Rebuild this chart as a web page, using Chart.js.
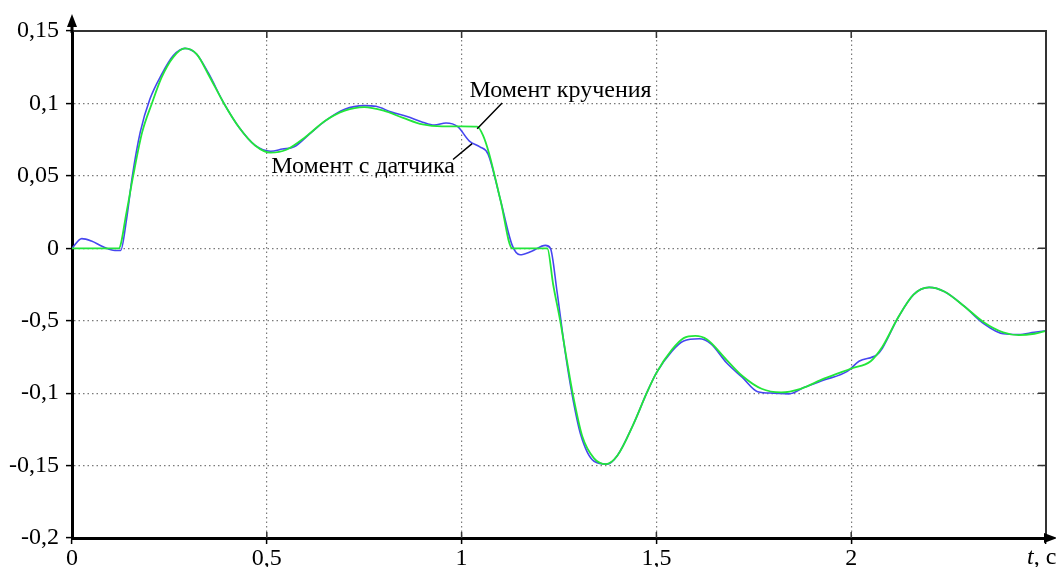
<!DOCTYPE html>
<html>
<head>
<meta charset="utf-8">
<script src="https://cdn.jsdelivr.net/npm/chart.js@4/dist/chart.umd.min.js"></script>
<style>
  html, body { margin: 0; padding: 0; background: #fff; }
  #wrap { width: 1056px; height: 567px; }
</style>
</head>
<body>
<div id="wrap"><canvas id="chart" width="1056" height="567"></canvas></div>
<script>
// time, s
const tModel = [0, 0.05, 0.10, 0.12, 0.14, 0.157, 0.18, 0.205, 0.23, 0.26, 0.29, 0.32, 0.35, 0.39, 0.43, 0.47, 0.51, 0.55, 0.60, 0.65, 0.70, 0.75, 0.80, 0.85, 0.90, 0.95, 1.00, 1.04, 1.055, 1.07, 1.10, 1.13, 1.22, 1.235, 1.253, 1.27, 1.285, 1.31, 1.34, 1.37, 1.40, 1.44, 1.475, 1.50, 1.54, 1.57, 1.60, 1.63, 1.68, 1.72, 1.77, 1.82, 1.87, 1.93, 2.00, 2.05, 2.08, 2.12, 2.16, 2.20, 2.24, 2.29, 2.34, 2.39, 2.43, 2.47, 2.50];
// Момент кручения
const vModel = [0, 0, 0, 0, 0.025, 0.05, 0.08, 0.10, 0.118, 0.132, 0.138, 0.134, 0.120, 0.10, 0.083, 0.071, 0.066, 0.068, 0.077, 0.088, 0.095, 0.0975, 0.095, 0.090, 0.0855, 0.0842, 0.0842, 0.084, 0.078, 0.066, 0.033, 0, 0, -0.025, -0.05, -0.077, -0.1, -0.13, -0.145, -0.149, -0.143, -0.122, -0.1, -0.086, -0.07, -0.062, -0.0605, -0.063, -0.077, -0.088, -0.097, -0.0995, -0.097, -0.090, -0.083, -0.078, -0.068, -0.048, -0.032, -0.027, -0.030, -0.040, -0.051, -0.058, -0.060, -0.059, -0.057];

const tSensor = [0, 0.025, 0.05, 0.08, 0.11, 0.125, 0.14, 0.155, 0.175, 0.20, 0.23, 0.26, 0.29, 0.32, 0.35, 0.39, 0.43, 0.47, 0.51, 0.54, 0.57, 0.61, 0.65, 0.70, 0.75, 0.78, 0.82, 0.86, 0.90, 0.93, 0.96, 0.99, 1.02, 1.047, 1.068, 1.10, 1.13, 1.15, 1.18, 1.215, 1.228, 1.245, 1.265, 1.283, 1.305, 1.34, 1.373, 1.40, 1.44, 1.475, 1.50, 1.54, 1.57, 1.61, 1.64, 1.68, 1.72, 1.76, 1.80, 1.84, 1.88, 1.93, 1.99, 2.02, 2.066, 2.08, 2.12, 2.16, 2.20, 2.24, 2.29, 2.34, 2.39, 2.43, 2.47, 2.50];
// Момент с датчика
const vSensor = [0, 0.0067, 0.005, 0.001, -0.0015, -0.0015, 0.02, 0.05, 0.08, 0.103, 0.12, 0.133, 0.138, 0.134, 0.121, 0.10, 0.083, 0.071, 0.067, 0.0685, 0.070, 0.079, 0.088, 0.096, 0.0985, 0.098, 0.094, 0.091, 0.087, 0.085, 0.0865, 0.084, 0.074, 0.070, 0.065, 0.033, 0.002, -0.0045, -0.002, 0.002, 0, -0.03, -0.07, -0.1, -0.128, -0.147, -0.149, -0.143, -0.122, -0.1, -0.086, -0.071, -0.064, -0.0625, -0.066, -0.079, -0.089, -0.099, -0.1, -0.1005, -0.096, -0.091, -0.085, -0.078, -0.0735, -0.069, -0.048, -0.032, -0.027, -0.030, -0.040, -0.052, -0.059, -0.0595, -0.058, -0.057];

const xTicks = ["0", "0,5", "1", "1,5", "2", ""];
const yTicks = ["-0,2", "-0,15", "-0,1", "-0,5", "0", "0,05", "0,1", "0,15"];

const labelModel = "Момент кручения";
const labelSensor = "Момент с датчика";

const FONT = "'Liberation Serif', 'Times New Roman', serif";
const FSIZE = 24;

function pts(ts, vs) {
  return ts.map((t, i) => ({ x: t, y: vs[i] }));
}

const frame = {
  id: "frame",
  afterDraw(chart) {
    const c = chart.ctx;
    const a = chart.chartArea;
    const xs = chart.scales.x, ys = chart.scales.y;
    c.save();

    // top and right border
    c.strokeStyle = "#333";
    c.lineWidth = 2;
    c.beginPath();
    c.moveTo(a.left, a.top);
    c.lineTo(a.right, a.top);
    c.lineTo(a.right, a.bottom);
    c.stroke();

    // inward ticks on frame
    c.lineWidth = 1.5;
    c.beginPath();
    xs.ticks.forEach(tk => {
      const px = xs.getPixelForValue(tk.value);
      if (px <= a.left + 1 || px >= a.right - 1) return;
      c.moveTo(px, a.top); c.lineTo(px, a.top + 7);
      c.moveTo(px, a.bottom); c.lineTo(px, a.bottom - 6);
    });
    ys.ticks.forEach(tk => {
      const py = ys.getPixelForValue(tk.value);
      if (py <= a.top + 1 || py >= a.bottom - 1) return;
      c.moveTo(a.right, py); c.lineTo(a.right - 8, py);
    });
    c.stroke();

    // arrows
    c.fillStyle = "#000";
    c.beginPath();
    c.moveTo(a.left, a.top - 17);
    c.lineTo(a.left - 5, a.top - 4);
    c.lineTo(a.left + 5, a.top - 4);
    c.closePath();
    c.fill();
    c.fillRect(a.left - 1.5, a.top - 6, 3, 8);
    c.beginPath();
    c.moveTo(a.right + 11, a.bottom);
    c.lineTo(a.right - 2, a.bottom - 5);
    c.lineTo(a.right - 2, a.bottom + 5);
    c.closePath();
    c.fill();

    // axis name
    c.textBaseline = "alphabetic";
    c.textAlign = "left";
    c.font = "italic " + FSIZE + "px " + FONT;
    const ax = a.right - 19, ay = 564;
    c.fillText("t", ax, ay);
    const tw = c.measureText("t").width;
    c.font = FSIZE + "px " + FONT;
    c.fillText(", c", ax + tw, ay);

    // annotations
    c.font = FSIZE + "px " + FONT;
    c.textAlign = "left";
    c.fillText(labelModel, xs.getPixelForValue(1.02), ys.getPixelForValue(0.1045));
    c.textAlign = "right";
    c.fillText(labelSensor, xs.getPixelForValue(0.983), ys.getPixelForValue(0.0517));

    c.strokeStyle = "#000";
    c.lineWidth = 1.5;
    c.beginPath();
    c.moveTo(xs.getPixelForValue(1.104), ys.getPixelForValue(0.1003));
    c.lineTo(xs.getPixelForValue(1.04), ys.getPixelForValue(0.0825));
    c.moveTo(xs.getPixelForValue(0.978), ys.getPixelForValue(0.0613));
    c.lineTo(xs.getPixelForValue(1.027), ys.getPixelForValue(0.0723));
    c.stroke();
    c.restore();
  }
};

new Chart(document.getElementById("chart"), {
  type: "line",
  data: {
    datasets: [
      {
        label: labelModel,
        data: pts(tModel, vModel),
        borderColor: "#22e63a",
        borderWidth: 1.8,
        pointRadius: 0,
        cubicInterpolationMode: "monotone",
        fill: false
      },
      {
        label: labelSensor,
        data: pts(tSensor, vSensor),
        borderColor: "#4646f0",
        borderWidth: 1.6,
        pointRadius: 0,
        cubicInterpolationMode: "monotone",
        fill: false
      }
    ]
  },
  options: {
    responsive: false,
    animation: false,
    layout: { padding: { top: 31, right: 10, left: 0, bottom: 0 } },
    plugins: { legend: { display: false }, tooltip: { enabled: false } },
    scales: {
      x: {
        type: "linear",
        min: 0,
        max: 2.5,
        afterFit: s => { s.height = 29; },
        afterBuildTicks: s => { s.ticks = xTicks.map((_, i) => ({ value: i * 0.5 })); },
        ticks: {
          autoSkip: false,
          maxRotation: 0,
          padding: 0,
          color: "#000",
          font: { family: FONT, size: FSIZE },
          callback: (v, i) => xTicks[i]
        },
        grid: {
          color: "#7a7a7a",
          lineWidth: 1.2,
          tickLength: 6,
          tickColor: "#000",
          tickWidth: 1.5,
          tickBorderDash: []
        },
        border: { color: "#000", width: 3, dash: [1.5, 3] }
      },
      y: {
        type: "linear",
        min: -0.2,
        max: 0.15,
        afterFit: s => { s.width = 72; },
        afterBuildTicks: s => { s.ticks = yTicks.map((_, i) => ({ value: -0.2 + i * 0.05 })); },
        ticks: {
          autoSkip: false,
          padding: 7,
          color: "#000",
          font: { family: FONT, size: FSIZE },
          callback: (v, i) => yTicks[i]
        },
        grid: {
          color: "#7a7a7a",
          lineWidth: 1.2,
          tickLength: 6,
          tickColor: "#000",
          tickWidth: 1.5,
          tickBorderDash: []
        },
        border: { color: "#000", width: 3, dash: [1.5, 3] }
      }
    }
  },
  plugins: [frame]
});
</script>
</body>
</html>
